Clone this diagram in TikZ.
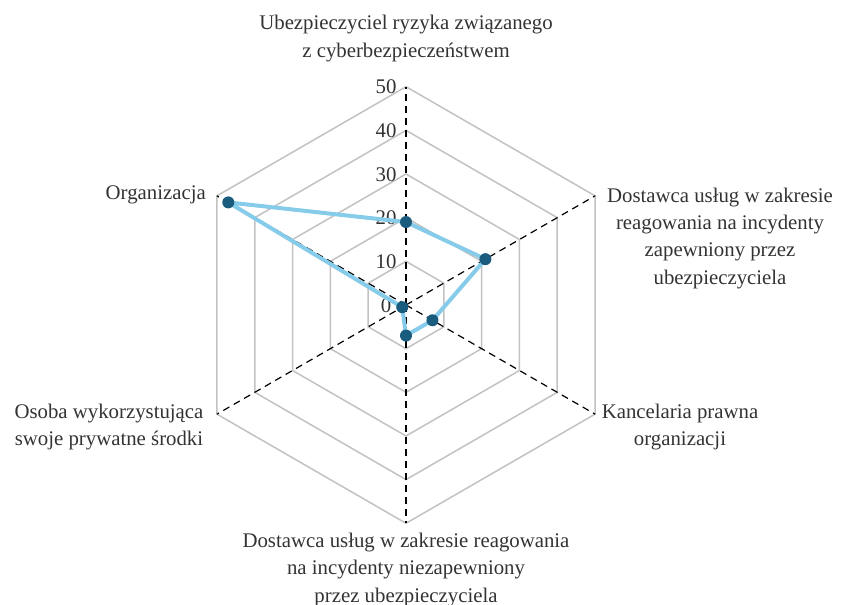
\documentclass[tikz,border=0pt]{standalone}
\usepackage{fontspec}
\setmainfont{Liberation Serif}
\definecolor{gridgrey}{HTML}{C2C2C2}
\definecolor{lineblue}{HTML}{86CCEA}
\definecolor{ptblue}{HTML}{1A5C7E}
\definecolor{labelgrey}{HTML}{333333}
\begin{document}
\begin{tikzpicture}[x=1pt,y=1pt,
  gridline/.style={draw=gridgrey, line width=1.5pt},
  spoke/.style={draw=black, line width=1.2pt, dash pattern=on 7pt off 5pt},
  dataline/.style={draw=lineblue, line width=4pt, line join=round},
  datapt/.style={circle, fill=ptblue, inner sep=0pt, minimum size=12pt},
  ticklbl/.style={font=\fontsize{20.8}{25}\selectfont, text=labelgrey, anchor=base, inner sep=0pt},
  axislbl/.style={font=\fontsize{20.8}{27.3}\selectfont, text=labelgrey, align=center, inner sep=0pt}]
\useasboundingbox (0,0) rectangle (841,605);
\begin{scope}[shift={(406,300)}]
  \foreach \k in {1,...,5} {
    \pgfmathsetmacro\R{\k*43.66}
    \draw[gridline] (90:\R) -- (30:\R) -- (-30:\R) -- (-90:\R) -- (-150:\R) -- (150:\R) -- cycle;
  }
  \coordinate (c) at (0,0);
  \foreach \a/\n in {90/0,30/1,-30/2,-90/3,-150/4,150/5} {
    \coordinate (e\n) at (\a:218.3);
    \draw[spoke] (c) -- (e\n);
  }
  \foreach \k in {0,...,5} {
    \pgfmathsetmacro\Y{\k*43.66-7.03}
    \pgfmathtruncatemacro\V{\k*10}
    \node[ticklbl] (t\k) at (-20,\Y) {\V};
  }
  \foreach \a/\v/\n in {90/19/0,30/21/1,-30/7/2,-90/7/3,-150/1/4,150/47/5} {
    \coordinate (d\n) at (\a:{\v*4.366});
  }
  \draw[dataline] (d0) -- (d1) -- (d2) -- (d3) -- (d4) -- (d5) -- cycle;
  \foreach \n in {0,...,5} {
    \node[datapt] (p\n) at (d\n) {};
  }
\end{scope}
\node[axislbl, anchor=north] (l0) at (406,589.9) {Ubezpieczyciel ryzyka związanego\\z cyberbezpieczeństwem};
\node[axislbl, anchor=north] (l1) at (720,417.5) {Dostawca usług w zakresie\\reagowania na incydenty\\zapewniony przez\\ubezpieczyciela};
\node[axislbl, anchor=north] (l2) at (680,201.2) {Kancelaria prawna\\organizacji};
\node[axislbl, anchor=north] (l3) at (406,72) {Dostawca usług w zakresie reagowania\\na incydenty niezapewniony\\przez ubezpieczyciela};
\node[axislbl, anchor=north] (l4) at (109,201.2) {Osoba wykorzystująca\\swoje prywatne środki};
\node[axislbl, anchor=base east] (l5) at (206,405) {Organizacja};
\end{tikzpicture}
\end{document}
